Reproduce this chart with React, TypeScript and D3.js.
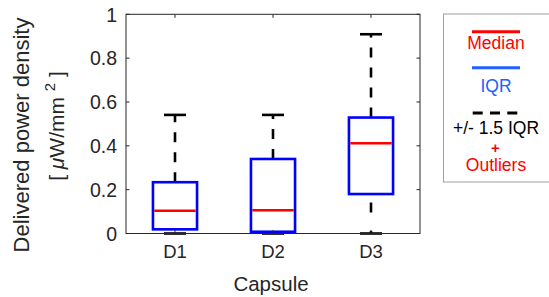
import * as d3 from "d3";

const capsules = ["D1", "D2", "D3"];
const q1 = [0.019, 0.008, 0.18];
const medians = [0.104, 0.106, 0.412];
const q3 = [0.234, 0.34, 0.529];
const whiskerLow = [0, 0, 0];
const whiskerHigh = [0.541, 0.541, 0.909];
const yTicks = [0, 0.2, 0.4, 0.6, 0.8, 1];

const W = 549;
const H = 297;
const left = 126;
const right = 420;
const top = 14.3;
const bottom = 233.5;
const font = "'Liberation Sans', Arial, Helvetica, sans-serif";
const axisColor = "#262626";

export default function App() {
  const x = d3.scaleBand().domain(capsules).range([left, right]).padding(0);
  const y = d3.scaleLinear().domain([0, 1]).range([bottom, top]);
  const boxW = x.bandwidth() * 0.45;
  const capW = boxW / 2;
  const fmt = d3.format("~g");

  return (
    <div style={{ position: "absolute", left: 0, top: 0 }}>
      <svg width={W} height={H} style={{ display: "block", fontFamily: font }}>
        <rect width={W} height={H} fill="#fff" />

        {/* boxes */}
        {capsules.map((c, i) => {
          const cx = x(c)! + x.bandwidth() / 2;
          return (
            <g key={c}>
              <line x1={cx} x2={cx} y1={y(q3[i])} y2={y(whiskerHigh[i])}
                stroke="#000" strokeWidth={2.6} strokeDasharray="10 10" />
              <line x1={cx} x2={cx} y1={y(q1[i])} y2={y(whiskerLow[i])}
                stroke="#000" strokeWidth={2.6} strokeDasharray="0 8.5 10 10" />
              <line x1={cx - capW / 2} x2={cx + capW / 2} y1={y(whiskerHigh[i])} y2={y(whiskerHigh[i])}
                stroke="#000" strokeWidth={2.6} />
              <line x1={cx - capW / 2} x2={cx + capW / 2} y1={y(whiskerLow[i])} y2={y(whiskerLow[i])}
                stroke="#000" strokeWidth={2.6} />
              <rect x={cx - boxW / 2} y={y(q3[i])} width={boxW} height={y(q1[i]) - y(q3[i])}
                fill="none" stroke="#0000ff" strokeWidth={2.6} />
              <line x1={cx - boxW / 2 + 1.3} x2={cx + boxW / 2 - 1.3} y1={y(medians[i])} y2={y(medians[i])}
                stroke="#ff0000" strokeWidth={2.4} />
            </g>
          );
        })}

        {/* axes frame */}
        <rect x={left} y={top} width={right - left} height={bottom - top}
          fill="none" stroke={axisColor} strokeWidth={1} />
        {yTicks.map((t) => (
          <g key={t}>
            <line x1={left} x2={left + 3.5} y1={y(t)} y2={y(t)} stroke={axisColor} />
            <line x1={right - 3.5} x2={right} y1={y(t)} y2={y(t)} stroke={axisColor} />
            <text x={117} y={y(t)} dy="0.37em" textAnchor="end" fontSize={19.5} fill="#262626">
              {fmt(t)}
            </text>
          </g>
        ))}
        {capsules.map((c) => {
          const cx = x(c)! + x.bandwidth() / 2;
          return (
            <g key={c}>
              <line x1={cx} x2={cx} y1={bottom} y2={bottom - 3.5} stroke={axisColor} />
              <line x1={cx} x2={cx} y1={top} y2={top + 3.5} stroke={axisColor} />
              <text x={cx} y={258.3} textAnchor="middle" fontSize={18.5} fill="#262626">{c}</text>
            </g>
          );
        })}

        <text x={271} y={290.7} textAnchor="middle" fontSize={20.5} fill="#262626">Capsule</text>

        {/* y label */}
        <text transform="translate(29,135) rotate(-90)" textAnchor="middle" fontSize={22} fill="#262626">
          Delivered power density
        </text>
        <text transform="translate(63.8,126) rotate(-90)" textAnchor="middle" fontSize={21} fill="#262626">
          <tspan>[ </tspan>
          <tspan fontStyle="italic">μ</tspan>
          <tspan>W/mm </tspan>
          <tspan dy={-9} fontSize={15}>2</tspan>
          <tspan dy={9}> ]</tspan>
        </text>

        {/* legend */}
        <rect x={443.5} y={14} width={110} height={168} fill="#fff" stroke="#a0a0a0" strokeWidth={1} />
        <line x1={472} x2={520} y1={31.7} y2={31.7} stroke="#ff0000" strokeWidth={3} />
        <text x={496} y={49} textAnchor="middle" fontSize={17.5} fill="#ff0000">Median</text>
        <line x1={472} x2={520} y1={67.7} y2={67.7} stroke="#2060ff" strokeWidth={3} />
        <text x={496} y={92.3} textAnchor="middle" fontSize={17.5} fill="#2060ff">IQR</text>
        <line x1={472.7} x2={517.3} y1={113} y2={113} stroke="#000" strokeWidth={3} strokeDasharray="10 7.3" />
        <text x={496} y={134.3} textAnchor="middle" fontSize={17.5} fill="#000">+/- 1.5 IQR</text>
        <text x={495.5} y={153} textAnchor="middle" fontSize={15} fontWeight="bold" fill="#ff0000">+</text>
        <text x={496} y={171} textAnchor="middle" fontSize={17.5} fill="#ff0000">Outliers</text>
      </svg>
    </div>
  );
}
